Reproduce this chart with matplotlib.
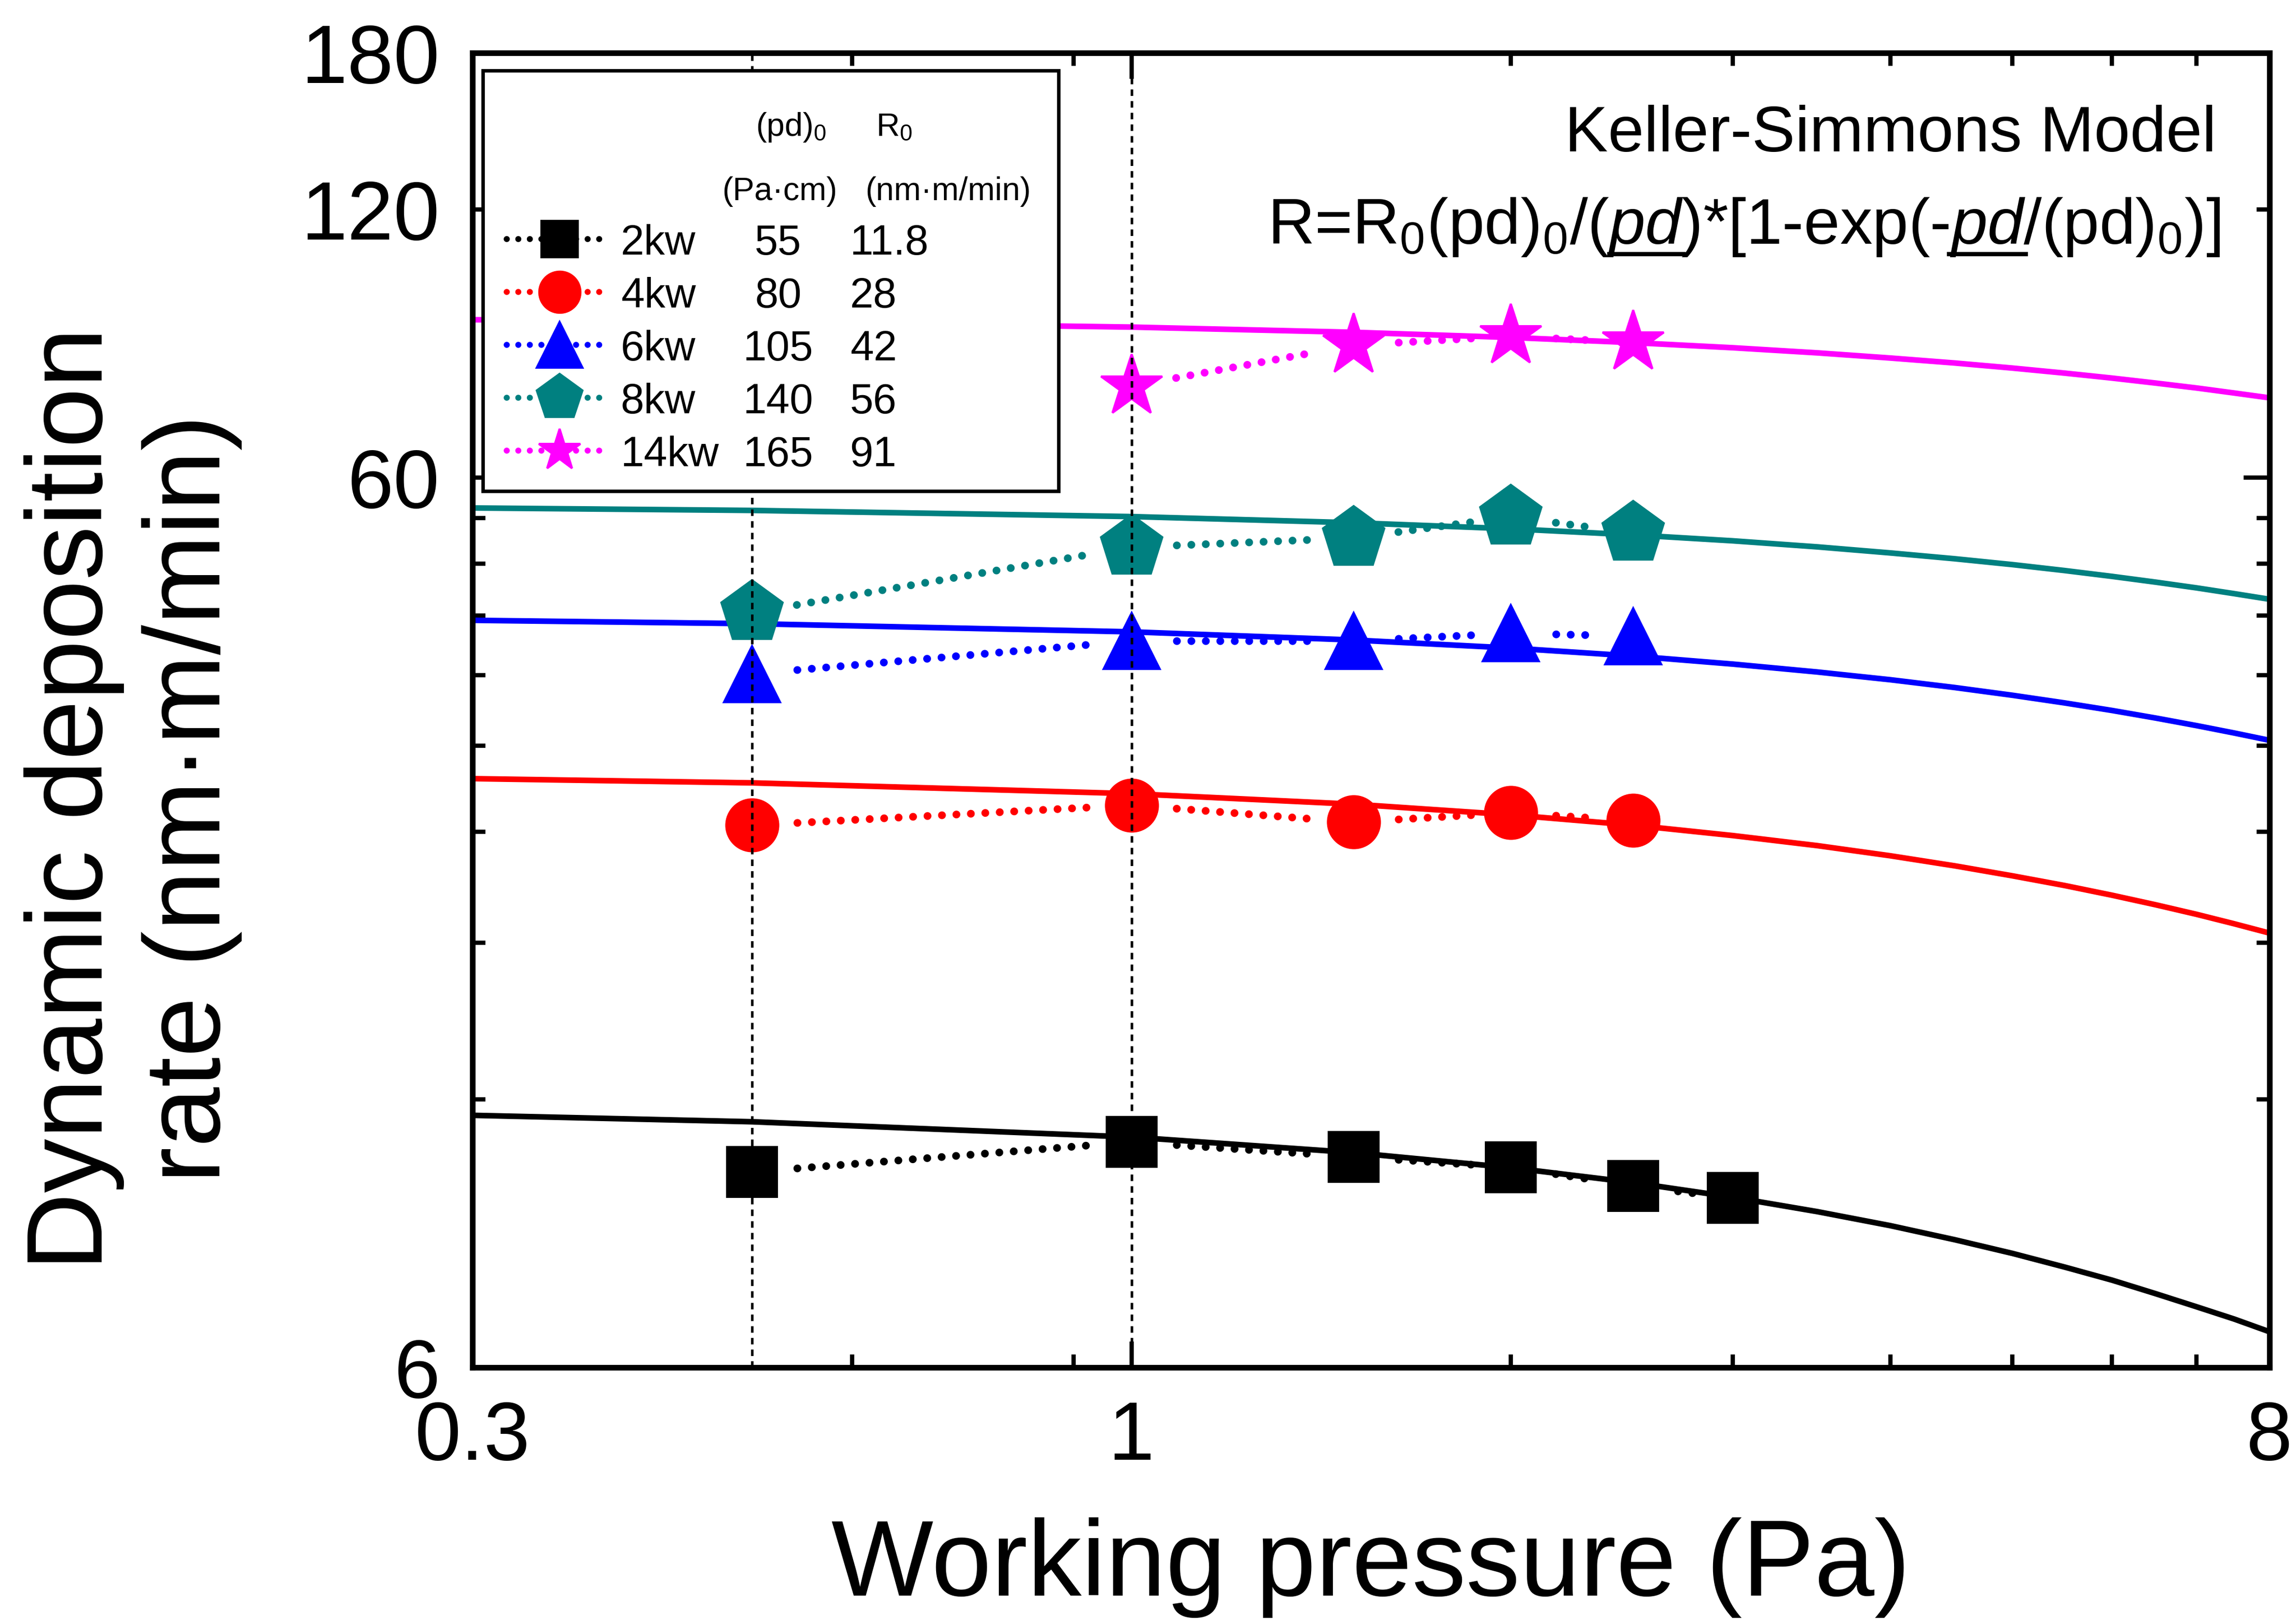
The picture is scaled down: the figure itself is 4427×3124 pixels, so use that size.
import matplotlib
matplotlib.use('Agg')
import matplotlib.pyplot as plt
from matplotlib.ticker import FixedLocator, FuncFormatter, NullFormatter
from matplotlib.patches import Rectangle
from matplotlib.lines import Line2D

plt.rcParams['font.family'] = ['Liberation Sans', 'DejaVu Sans']
plt.rcParams['mathtext.fontset'] = 'custom'
plt.rcParams['mathtext.rm'] = 'Liberation Sans'
plt.rcParams['mathtext.it'] = 'Liberation Sans:italic'
plt.rcParams['mathtext.bf'] = 'Liberation Sans:bold'

# measured deposition rates (nm*m/min) vs working pressure (Pa)
powers = ['2kw', '4kw', '6kw', '8kw', '14kw']
pd0 = ['55', '80', '105', '140', '165']
r0 = ['11.8', '28', '42', '56', '91']
colors = ['black', '#ff0000', '#0000ff', '#008080', '#ff00ff']
markers = ['s', 'o', '^', 'p', '*']

p_2kw = [0.5, 1, 1.5, 2, 2.5, 3]
r_2kw = [9.95, 10.75, 10.35, 10.07, 9.6, 9.3]
p_4kw = [0.5, 1, 1.5, 2, 2.5]
r_4kw = [24.4, 25.7, 24.6, 25.2, 24.7]
p_6kw = [0.5, 1, 1.5, 2, 2.5]
r_6kw = [36.1, 39.3, 39.3, 40.1, 39.8]
p_8kw = [0.5, 1, 1.5, 2, 2.5]
r_8kw = [42.3, 50.1, 51.3, 54.2, 52.0]
p_14kw = [1, 1.5, 2, 2.5]
r_14kw = [76.0, 84.5, 86.5, 85.1]

# Keller-Simmons fit curves
p_fit = [0.3, 0.5, 1, 1.5, 2, 2.5, 3, 3.5, 4, 4.5, 5, 5.5, 6, 6.5, 7, 7.5, 8]
fit_2kw = [11.52, 11.33, 10.89, 10.46, 10.06, 9.68, 9.32, 8.98, 8.66, 8.35, 8.06,
           7.78, 7.52, 7.26, 7.02, 6.80, 6.58]
fit_4kw = [27.53, 27.23, 26.48, 25.77, 25.07, 24.41, 23.76, 23.15, 22.55, 21.97, 21.41,
           20.88, 20.36, 19.86, 19.38, 18.91, 18.46]
fit_6kw = [41.47, 41.11, 40.25, 39.41, 38.60, 37.81, 37.03, 36.28, 35.56, 34.85, 34.16,
           33.49, 32.84, 32.20, 31.58, 30.98, 30.40]
fit_8kw = [55.46, 55.11, 54.24, 53.38, 52.55, 51.73, 50.94, 50.15, 49.37, 48.63, 47.90,
           47.17, 46.46, 45.77, 45.10, 44.43, 43.79]
fit_14kw = [90.26, 89.77, 88.56, 87.38, 86.21, 85.07, 83.95, 82.85, 81.75, 80.70, 79.65,
            78.62, 77.61, 76.61, 75.65, 74.67, 73.74]

pressures = [p_2kw, p_4kw, p_6kw, p_8kw, p_14kw]
rates = [r_2kw, r_4kw, r_6kw, r_8kw, r_14kw]
fits = [fit_2kw, fit_4kw, fit_6kw, fit_8kw, fit_14kw]
msizes = [23, 24, 26, 30, 30]
leg_msizes = [17, 19, 21, 22, 20]

fig = plt.figure(figsize=(4427 / 300, 3124 / 300), dpi=300)
ax = fig.add_axes([0.2058, 0.1559, 0.7827, 0.8114])
ax.set_xscale('log')
ax.set_yscale('log')
ax.set_xlim(0.3, 8)
ax.set_ylim(6, 180)

# fit curves
for ys, c in zip(fits, colors):
    ax.plot(p_fit, ys, '-', color=c, lw=2.6, zorder=2)

# data points with dotted connectors that stop short of the markers
for xs, ys, c, m, ms in zip(pressures, rates, colors, markers, msizes):
    for i in range(len(xs) - 1):
        ax.annotate('', xy=(xs[i + 1], ys[i + 1]), xytext=(xs[i], ys[i]),
                    arrowprops=dict(arrowstyle='-', color=c, lw=3.6,
                                    linestyle=(0, (0.01, 1.85)), capstyle='round',
                                    shrinkA=21, shrinkB=17),
                    zorder=3)
    ax.plot(xs, ys, ls='none', marker=m, ms=ms, color=c, mec=c, zorder=4)

# reference pressures
for xv in [0.5, 1]:
    ax.axvline(xv, color='black', lw=1.2, linestyle=(0, (2.5, 2)), zorder=4.5)

# axes styling
for s in ax.spines.values():
    s.set_linewidth(2.6)
ax.xaxis.set_major_locator(FixedLocator([0.3, 1, 8]))
ax.xaxis.set_minor_locator(FixedLocator([0.6, 0.9, 2, 3, 4, 5, 6, 7]))
ax.xaxis.set_major_formatter(FuncFormatter(lambda v, pos: '%g' % v))
ax.xaxis.set_minor_formatter(NullFormatter())
ax.yaxis.set_major_locator(FixedLocator([6, 60, 180]))
ax.yaxis.set_minor_locator(FixedLocator([12, 18, 24, 30, 36, 42, 48, 54, 120]))
ax.yaxis.set_major_formatter(FuncFormatter(lambda v, pos: '%g' % v))
ax.yaxis.set_minor_formatter(FuncFormatter(lambda v, pos: '120' if abs(v - 120) < 1 else ''))
ax.tick_params(which='both', direction='in', top=True, right=True, width=2, labelsize=38.5)
ax.tick_params(which='major', length=12)
ax.tick_params(which='minor', length=6)
ax.tick_params(axis='x', which='both', pad=15)
ax.tick_params(axis='y', which='both', pad=15)

fig.text(0.597, 0.015, 'Working pressure (Pa)', ha='center', va='baseline', fontsize=50)
fig.text(0.058, 0.507, 'Dynamic deposition\nrate (nm·m/min)', rotation=90,
         ha='center', va='center', multialignment='center', fontsize=50, linespacing=1.22)

# legend box drawn by hand
ax.add_patch(Rectangle((0.0058, 0.6667), 0.3202, 0.3199, transform=ax.transAxes,
                       facecolor='white', edgecolor='black', lw=1.6, zorder=6))
ax.text(0.1772, 0.937, '(pd)$_0$', transform=ax.transAxes, ha='center', va='baseline', fontsize=15, zorder=7)
ax.text(0.2346, 0.937, 'R$_0$', transform=ax.transAxes, ha='center', va='baseline', fontsize=15, zorder=7)
ax.text(0.171, 0.888, '(Pa·cm)', transform=ax.transAxes, ha='center', va='baseline', fontsize=15, zorder=7)
ax.text(0.2646, 0.888, '(nm·m/min)', transform=ax.transAxes, ha='center', va='baseline', fontsize=15, zorder=7)
for i in range(len(powers)):
    yb = 0.8466 - i * 0.0402
    ym = yb + 0.0118
    ax.add_line(Line2D([0.019, 0.0742], [ym, ym], transform=ax.transAxes, color=colors[i],
                       lw=2.8, linestyle=(0, (0.01, 1.9)), solid_capstyle='round',
                       dash_capstyle='round', zorder=7))
    ax.add_line(Line2D([0.0485], [ym], transform=ax.transAxes, ls='none', marker=markers[i],
                       ms=leg_msizes[i], color=colors[i], mec=colors[i], zorder=8))
    ax.text(0.0825, yb, powers[i], transform=ax.transAxes, ha='left', va='baseline', fontsize=19.5, zorder=8)
    ax.text(0.17, yb, pd0[i], transform=ax.transAxes, ha='center', va='baseline', fontsize=19.5, zorder=8)
    ax.text(0.21, yb, r0[i], transform=ax.transAxes, ha='left', va='baseline', fontsize=19.5, zorder=8)

# model annotation
ax.text(0.9705, 0.9253, 'Keller-Simmons Model', transform=ax.transAxes, ha='right', va='baseline', fontsize=30, zorder=7)
part1 = 'R=R$_0$(pd)$_0$/('
part2 = '$\\mathit{pd}$'
part3 = ')*[1-exp(-'
part4 = '$\\mathit{pd}$'
part5 = '/(pd)$_0$)]'
formula = part1 + part2 + part3 + part4 + part5
fx, fy = 0.9725, 0.8548
ft = ax.text(fx, fy, formula, transform=ax.transAxes, ha='right', va='baseline', fontsize=30, zorder=7)

fig.canvas.draw()
renderer = fig.canvas.get_renderer()
bb = ft.get_window_extent(renderer)


def text_width(s):
    t = fig.text(0, 0, s, fontsize=30)
    w = t.get_window_extent(renderer).width
    t.remove()
    return w


# underline the two italic "pd"
base_y = ax.transAxes.transform((fx, fy))[1]
uy = base_y - 20
for pre, mid in [(part1, part2), (part1 + part2 + part3, part4)]:
    x0 = bb.x0 + text_width(pre)
    x1 = bb.x0 + text_width(pre + mid)
    (fx0, fy0), (fx1, fy1) = fig.transFigure.inverted().transform([(x0, uy), (x1, uy)])
    fig.add_artist(Line2D([fx0, fx1], [fy0, fy1], transform=fig.transFigure, color='black', lw=2))

fig.savefig('out.png', dpi=300)
